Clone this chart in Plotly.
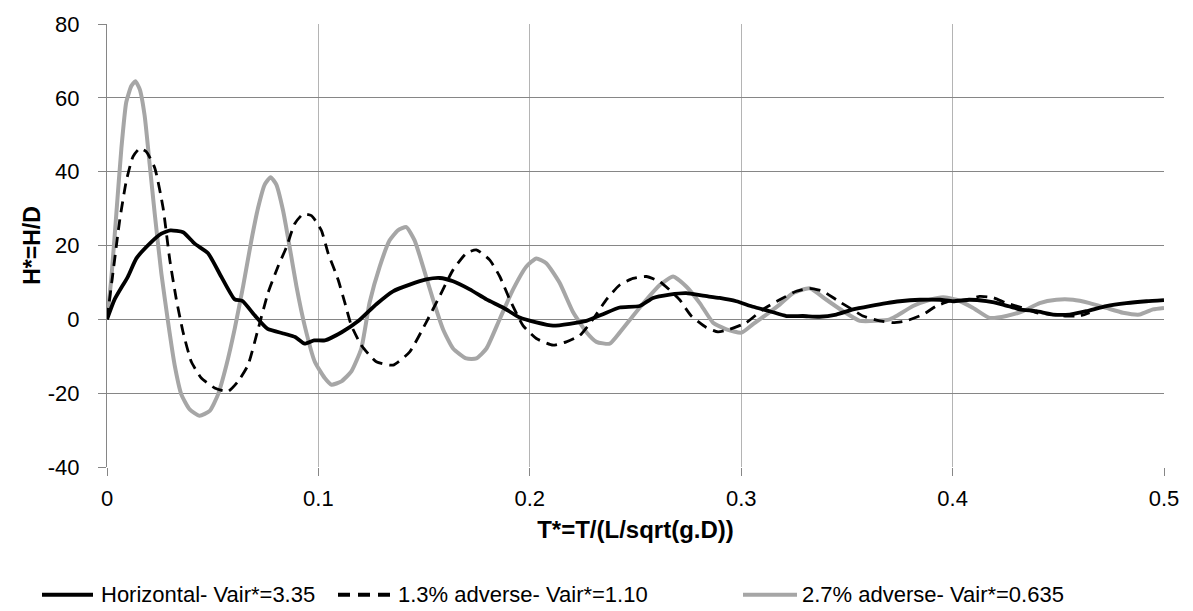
import plotly.graph_objects as go

# Horizontal pipe, Vair* = 3.35
t_horizontal = [0.0, 0.0036, 0.0099, 0.0139, 0.0202, 0.0257, 0.030, 0.036, 0.0415, 0.0478, 0.054,
                0.0604, 0.064, 0.070, 0.076, 0.084, 0.089, 0.0935, 0.098, 0.103, 0.111, 0.119,
                0.1274, 0.1353, 0.1432, 0.151, 0.1574, 0.1637, 0.1716, 0.1795, 0.1873, 0.1952,
                0.2031, 0.211, 0.2189, 0.2268, 0.2346, 0.2425, 0.252, 0.2583, 0.2662, 0.274,
                0.2819, 0.2898, 0.2977, 0.3056, 0.3135, 0.3214, 0.3292, 0.3371, 0.345, 0.3529,
                0.3608, 0.3687, 0.375, 0.3845, 0.394, 0.4002, 0.4081, 0.416, 0.4238, 0.4317,
                0.4396, 0.4475, 0.4554, 0.4633, 0.4727, 0.4822, 0.4917, 0.5]
h_horizontal = [0.0, 5.4, 11.6, 16.5, 20.5, 23.2, 24.1, 23.6, 20.5, 17.9, 11.6,
                5.4, 5.0, 1.0, -2.6, -3.9, -4.8, -6.6, -5.7, -5.7, -3.5, -0.4,
                4.1, 7.6, 9.4, 10.8, 11.2, 10.3, 8.1, 5.4, 3.2, 0.5,
                -0.8, -1.7, -1.2, -0.4, 1.4, 3.2, 3.6, 5.8, 6.7, 7.1,
                6.4, 5.8, 4.9, 3.4, 2.2, 0.9, 0.9, 0.7, 1.3, 2.7,
                3.6, 4.4, 4.9, 5.3, 5.3, 4.9, 5.3, 4.9, 4.0, 2.7,
                2.2, 1.3, 1.3, 2.2, 3.6, 4.4, 4.9, 5.2]

# 1.3 % adverse slope, Vair* = 1.10
t_adverse13 = [0.0, 0.0028, 0.006, 0.0091, 0.0123, 0.0155, 0.0186, 0.0226, 0.0265, 0.0297,
               0.0328, 0.036, 0.0399, 0.0446, 0.0509, 0.0573, 0.062, 0.0667, 0.0715, 0.0762,
               0.0809, 0.0849, 0.0888, 0.0927, 0.0967, 0.1014, 0.1046, 0.1093, 0.1125, 0.1156,
               0.1203, 0.1274, 0.1353, 0.1432, 0.151, 0.1574, 0.1637, 0.170, 0.1747, 0.181,
               0.1858, 0.1905, 0.1968, 0.2031, 0.211, 0.2173, 0.2236, 0.230, 0.2363, 0.2425,
               0.2488, 0.2551, 0.2615, 0.2678, 0.2709, 0.2764, 0.2835, 0.289, 0.2945, 0.3024,
               0.3103, 0.3182, 0.3261, 0.3324, 0.3387, 0.345, 0.3513, 0.3576, 0.3655, 0.3718,
               0.3781, 0.386, 0.3923, 0.3986, 0.4065, 0.4128, 0.4191, 0.4254, 0.4333, 0.4396,
               0.4475, 0.4538, 0.4601, 0.4648]
h_adverse13 = [0.0, 12.5, 26.8, 37.4, 44.1, 46.3, 45.4, 41.0, 30.3, 16.1,
               5.4, -3.5, -11.5, -15.9, -18.6, -19.5, -16.8, -12.4, -2.6, 7.2,
               14.3, 19.6, 25.9, 28.5, 28.1, 24.1, 17.9, 10.8, 4.5, -1.7,
               -7.0, -11.5, -12.4, -8.8, -0.8, 6.3, 13.4, 17.9, 18.8, 16.1,
               11.6, 5.4, -1.7, -5.2, -7.0, -6.1, -4.4, 0.1, 5.4, 9.3,
               11.1, 11.6, 10.2, 7.1, 5.3, 0.9, -2.2, -3.4, -2.7, -0.9,
               2.7, 5.3, 7.6, 8.4, 7.6, 5.3, 3.1, 0.9, -0.4, -0.9,
               -0.4, 1.3, 3.6, 4.9, 5.3, 6.2, 5.9, 4.4, 3.1, 1.8,
               1.3, 0.9, 0.9, 1.8]

# 2.7 % adverse slope, Vair* = 0.635
t_adverse27 = [0.0, 0.002, 0.0044, 0.0068, 0.0091, 0.0115, 0.0134, 0.0155, 0.0178, 0.0202,
               0.0226, 0.0257, 0.0289, 0.032, 0.0352, 0.0391, 0.0438, 0.0486, 0.0525, 0.0565,
               0.0604, 0.0644, 0.0683, 0.0715, 0.0746, 0.0774, 0.0801, 0.0833, 0.0864, 0.0896,
               0.0935, 0.0983, 0.103, 0.1062, 0.1109, 0.1156, 0.1203, 0.1242, 0.129, 0.1337,
               0.1376, 0.1416, 0.1455, 0.1495, 0.1542, 0.1589, 0.1637, 0.170, 0.1747, 0.1795,
               0.1858, 0.1921, 0.1984, 0.2031, 0.2078, 0.2141, 0.2205, 0.2268, 0.2315, 0.2378,
               0.2425, 0.2488, 0.2551, 0.2615, 0.2678, 0.274, 0.2804, 0.2867, 0.293, 0.3001,
               0.3056, 0.3119, 0.3182, 0.3245, 0.3324, 0.3403, 0.3482, 0.3561, 0.364, 0.3703,
               0.3734, 0.3813, 0.3892, 0.3955, 0.4018, 0.4097, 0.4175, 0.4254, 0.4333, 0.4412,
               0.4491, 0.457, 0.4648, 0.4727, 0.4806, 0.4885, 0.4948, 0.5]
h_adverse27 = [0.0, 10.8, 28.5, 46.3, 58.8, 63.2, 64.5, 62.3, 55.2, 41.9,
               28.5, 12.5, -0.8, -12.4, -20.4, -24.4, -26.1, -24.8, -20.4, -12.4,
               -2.6, 9.0, 21.4, 30.3, 36.5, 38.5, 36.5, 29.4, 19.6, 9.0,
               -1.7, -11.5, -15.9, -17.7, -16.8, -14.1, -7.9, 4.5, 14.3, 21.4,
               24.1, 25.0, 21.4, 14.3, 5.4, -2.6, -7.9, -10.6, -10.6, -7.9,
               0.1, 8.1, 14.3, 16.5, 15.2, 9.9, 1.9, -3.5, -6.1, -6.6,
               -3.6, 0.9, 5.3, 9.3, 11.6, 8.9, 4.4, -0.9, -2.7, -3.6,
               -1.3, 1.3, 4.0, 7.1, 8.4, 5.3, 2.2, -0.4, -0.4, 0.0,
               0.9, 3.6, 5.3, 6.0, 5.3, 3.1, 0.4, 0.9, 2.2, 4.4,
               5.3, 5.3, 4.4, 3.1, 1.8, 1.3, 2.7, 3.1]

series_names = ["Horizontal- Vair*=3.35", "1.3% adverse- Vair*=1.10", "2.7% adverse- Vair*=0.635"]

x_ticks = [0, 0.1, 0.2, 0.3, 0.4, 0.5]
x_tick_text = ["0", "0.1", "0.2", "0.3", "0.4", "0.5"]
y_ticks = [-40, -20, 0, 20, 40, 60, 80]
y_tick_text = ["-40", "-20", "0", "20", "40", "60", "80"]

FONT = "Liberation Sans, Arial, sans-serif"
GRAY = "#a6a6a6"

# figure geometry (pixels)
W, H = 1193, 611
M_L, M_R, M_T, M_B = 107, 29, 16, 144
PW, PH = W - M_L - M_R, H - M_T - M_B


def px_to_paper_x(px):
    return (px - M_L) / PW


def px_to_paper_y(py):
    return (H - M_B - py) / PH


fig = go.Figure()
fig.add_trace(go.Scatter(
    x=t_adverse27, y=h_adverse27, mode="lines", name=series_names[2],
    line=dict(color=GRAY, width=4, shape="spline", smoothing=0.5),
))
fig.add_trace(go.Scatter(
    x=t_adverse13, y=h_adverse13, mode="lines", name=series_names[1],
    line=dict(color="#000000", width=2.8, dash="11px,7px", shape="spline", smoothing=0.5),
))
fig.add_trace(go.Scatter(
    x=t_horizontal, y=h_horizontal, mode="lines", name=series_names[0],
    line=dict(color="#000000", width=3.8, shape="spline", smoothing=0.5),
))

# legend row drawn beneath the axis title
legend_y = px_to_paper_y(597)
legend_items = [
    # (key start px, key end px, text start px, colour, width, dash, label)
    (42, 93, 99, "#000000", 4, "solid", series_names[0]),
    (338, 390, 396, "#000000", 4, "12px,8px", series_names[1]),
    (743, 797, 800, GRAY, 4, "solid", series_names[2]),
]
shapes = []
annotations = []
for x0, x1, xt, col, wdt, dash, label in legend_items:
    shapes.append(dict(
        type="line", xref="paper", yref="paper",
        x0=px_to_paper_x(x0), x1=px_to_paper_x(x1), y0=legend_y, y1=legend_y,
        line=dict(color=col, width=wdt, dash=dash),
    ))
    annotations.append(dict(
        xref="paper", yref="paper", x=px_to_paper_x(xt), y=legend_y,
        xanchor="left", yanchor="middle", showarrow=False,
        text=label, font=dict(family=FONT, size=22, color="#000000"),
    ))

fig.update_layout(
    width=W, height=H,
    margin=dict(l=M_L, r=M_R, t=M_T, b=M_B),
    paper_bgcolor="white", plot_bgcolor="white",
    font=dict(family=FONT, size=22, color="#000000"),
    showlegend=False,
    shapes=shapes,
    annotations=annotations,
    xaxis=dict(
        range=[0, 0.5], tickvals=x_ticks, ticktext=x_tick_text,
        showgrid=True, gridcolor="#b4b4b4", gridwidth=1,
        zeroline=False, showline=False,
        ticks="outside", ticklen=8, tickcolor="#868686",
        ticklabelstandoff=4,
        tickfont=dict(family=FONT, size=22),
        title=dict(text="<b>T*=T/(L/sqrt(g.D))</b>", font=dict(family=FONT, size=24), standoff=10),
    ),
    yaxis=dict(
        range=[-40, 80], tickvals=y_ticks, ticktext=y_tick_text,
        showgrid=True, gridcolor="#868686", gridwidth=1,
        zeroline=False, showline=True, linecolor="#868686", linewidth=1,
        ticks="outside", ticklen=8, tickcolor="#868686",
        ticklabelstandoff=14,
        tickfont=dict(family=FONT, size=22),
        title=dict(text="<b>H*=H/D</b>", font=dict(family=FONT, size=23), standoff=0),
    ),
)

fig.write_html("out.html")
